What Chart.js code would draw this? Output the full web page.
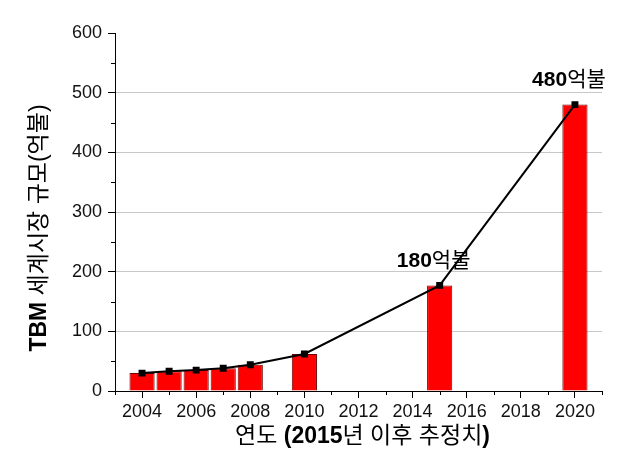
<!DOCTYPE html>
<html>
<head>
<meta charset="utf-8">
<script src="https://cdn.jsdelivr.net/npm/chart.js@4"></script>
<style>
  html, body { margin: 0; padding: 0; background: #fff; }
  #wrap { width: 644px; height: 450px; }
</style>
</head>
<body>
<div id="wrap"><canvas id="myChart" width="644" height="450"></canvas></div>
<script>
// data
var years = [2004, 2005, 2006, 2007, 2008, 2010, 2015, 2020];
var market = [30, 33, 35, 38, 44, 62, 177, 480];
var xTicks = [2004, 2006, 2008, 2010, 2012, 2014, 2016, 2018, 2020];
var yTicks = [0, 100, 200, 300, 400, 500, 600];
var noteYears = [2015, 2020];
var noteValues = ["180", "480"];
var noteUnit = "억불";

var FONT = "'Liberation Sans', Arial, 'Noto Sans CJK KR', sans-serif";

var points = years.map(function (y, i) { return { x: y, y: market[i] }; });

// draw a string made of bold / normal pieces
function drawParts(ctx, parts, size, x, y, align) {
    var total = 0;
    parts.forEach(function (p) {
        ctx.font = (p.b ? "bold " : "") + size + "px " + FONT;
        p.w = ctx.measureText(p.t).width;
        total += p.w;
    });
    var cx = align === "center" ? x - total / 2 : x;
    ctx.textBaseline = "middle";
    ctx.textAlign = "left";
    parts.forEach(function (p) {
        ctx.font = (p.b ? "bold " : "") + size + "px " + FONT;
        ctx.fillText(p.t, cx, y);
        cx += p.w;
    });
}

var extras = {
    id: "extras",
    afterDraw: function (chart) {
        var ctx = chart.ctx;
        var xs = chart.scales.x, ys = chart.scales.y;
        ctx.save();
        ctx.fillStyle = "#000";
        ctx.strokeStyle = "#000";
        ctx.lineWidth = 1;

        // minor ticks
        ctx.beginPath();
        for (var v = 50; v < 600; v += 100) {
            var py = Math.round(ys.getPixelForValue(v)) + 0.5;
            ctx.moveTo(xs.left - 4, py);
            ctx.lineTo(xs.left, py);
        }
        for (var yr = 2003; yr <= 2021; yr += 2) {
            var px = Math.round(xs.getPixelForValue(yr)) + 0.5;
            ctx.moveTo(px, ys.bottom);
            ctx.lineTo(px, ys.bottom + 4);
        }
        ctx.stroke();

        // value notes
        noteYears.forEach(function (yr, i) {
            var px = xs.getPixelForValue(yr) - 6;
            var py = ys.getPixelForValue(market[years.indexOf(yr)]) - 24;
            drawParts(ctx, [{ t: noteValues[i], b: true }, { t: noteUnit, b: false }], 21, px, py, "center");
        });

        // axis titles
        drawParts(ctx, [
            { t: "연도 ", b: false }, { t: "(2015", b: true }, { t: "년 이후 추정치", b: false }, { t: ")", b: true }
        ], 23, (xs.left + xs.right) / 2 + 4, 437, "center");

        ctx.translate(40, 228);
        ctx.rotate(-Math.PI / 2);
        drawParts(ctx, [{ t: "TBM", b: true }, { t: " 세계시장 규모(억불)", b: false }], 23, 0, 0, "center");
        ctx.restore();
    }
};

var ctx = document.getElementById("myChart").getContext("2d");
var chart = new Chart(ctx, {
    type: "bar",
    data: {
        datasets: [{
            type: "line",
            data: points,
            borderColor: "#000",
            borderWidth: 2,
            pointStyle: "rect",
            pointRadius: 3.5,
            pointBackgroundColor: "#000",
            pointBorderColor: "#000",
            tension: 0,
            order: 0
        }, {
            type: "bar",
            data: points,
            backgroundColor: "#ff0000",
            borderColor: "#700000",
            borderWidth: 1,
            barPercentage: 0.93,
            categoryPercentage: 1,
            order: 1
        }]
    },
    options: {
        responsive: false,
        animation: false,
        layout: { padding: { top: 33, right: 42, left: 0, bottom: 0 } },
        plugins: { legend: { display: false }, tooltip: { enabled: false } },
        scales: {
            x: {
                type: "linear",
                offset: false,
                min: 2003,
                max: 2021,
                afterBuildTicks: function (s) { s.ticks = xTicks.map(function (v) { return { value: v }; }); },
                afterFit: function (s) { s.height = 59; },
                grid: { drawOnChartArea: false, tickLength: 7, tickColor: "#000", offset: false },
                border: { color: "#000", width: 1 },
                ticks: {
                    color: "#111",
                    font: { family: FONT, size: 18 },
                    maxRotation: 0,
                    padding: 3,
                    callback: function (v) { return String(v); }
                }
            },
            y: {
                min: 0,
                max: 600,
                afterBuildTicks: function (s) { s.ticks = yTicks.map(function (v) { return { value: v }; }); },
                afterFit: function (s) { s.width = 115; },
                grid: {
                    color: function (c) {
                        var v = c.tick ? c.tick.value : 0;
                        return (v === 0 || v === 600) ? "rgba(0,0,0,0)" : "#c8c8c8";
                    },
                    tickLength: 7,
                    tickColor: "#000"
                },
                border: { color: "#000", width: 1 },
                ticks: {
                    color: "#111",
                    font: { family: FONT, size: 18 },
                    padding: 6
                }
            }
        }
    },
    plugins: [extras]
});
</script>
</body>
</html>
